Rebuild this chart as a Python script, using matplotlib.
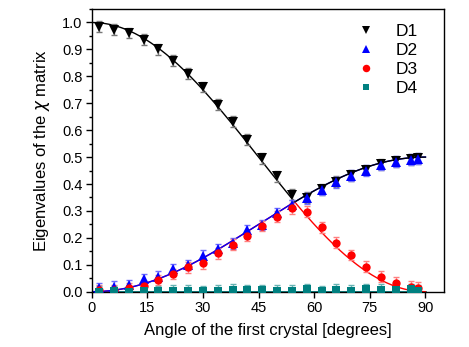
import numpy as np
import matplotlib
matplotlib.use("Agg")
import matplotlib.pyplot as plt
from matplotlib.ticker import MultipleLocator

plt.rcParams['font.family'] = ['Liberation Sans', 'DejaVu Sans']

angles = [2, 6, 10, 14, 18, 22, 26, 30, 34, 38, 42, 46, 50, 54, 58, 62, 66, 70, 74, 78, 82, 86, 88]
d1 = [0.985, 0.973, 0.961, 0.936, 0.901, 0.858, 0.810, 0.760, 0.695, 0.632, 0.564, 0.496, 0.428, 0.360,
      0.349, 0.380, 0.409, 0.433, 0.452, 0.473, 0.485, 0.492, 0.496]
d2 = [0.013, 0.019, 0.025, 0.046, 0.056, 0.083, 0.099, 0.133, 0.158, 0.180, 0.229, 0.248, 0.291, 0.322,
      0.347, 0.378, 0.407, 0.431, 0.450, 0.471, 0.483, 0.490, 0.494]
d3 = [0.005, 0.006, 0.012, 0.021, 0.043, 0.066, 0.091, 0.105, 0.143, 0.174, 0.207, 0.244, 0.279, 0.310,
      0.297, 0.239, 0.182, 0.136, 0.093, 0.056, 0.034, 0.019, 0.015]
d4 = [0.000, 0.002, 0.000, 0.001, 0.002, 0.003, 0.003, 0.002, 0.004, 0.007, 0.006, 0.006, 0.004, 0.003,
      0.010, 0.002, 0.008, 0.004, 0.009, 0.007, 0.005, 0.009, 0.004]
err = [0.02] * len(angles)

# theoretical model curves (sorted eigenvalues)
theta = np.linspace(0, 90, 400)
c = np.cos(np.radians(theta)) ** 2
s = np.sin(np.radians(theta)) ** 2 / 2
th1 = np.maximum(c, s)
th2 = s
th3 = np.minimum(c, s)
th4 = np.zeros_like(theta)

fig = plt.figure(figsize=(4.69, 3.47), dpi=100)
ax = fig.add_axes([0.1955, 0.1594, 0.7512, 0.8146])

teal = '#008080'
series = [
    (d1, 'v', 'black', '#777777', 'D1', 6.5),
    (d2, '^', 'blue', '#6f6fff', 'D2', 6.5),
    (d3, 'o', 'red', '#ff8080', 'D3', 6),
    (d4, 's', teal, '#66b3b3', 'D4', 5.2),
]

ax.plot(theta, th4, color=teal, lw=2.0, zorder=2)
ax.plot(theta, th3, color='red', lw=1.0, zorder=2)
ax.plot(theta, th2, color='blue', lw=1.0, zorder=2.1)
ax.plot(theta, th1, color='black', lw=1.0, zorder=2.2)

for vals, m, col, ecol, lab, ms in series:
    ax.errorbar(angles, vals, yerr=err, fmt='none', ecolor=ecol, elinewidth=1.0,
                capsize=2.5, capthick=1.0, zorder=3)
    ax.plot(angles, vals, linestyle='none', marker=m, color=col, markersize=ms,
            markeredgewidth=0, label=lab, zorder=4)

ax.set_xlim(0, 95)
ax.set_ylim(0, 1.05)
ax.xaxis.set_major_locator(MultipleLocator(15))
ax.yaxis.set_major_locator(MultipleLocator(0.1))
ax.yaxis.set_minor_locator(MultipleLocator(0.05))
ax.yaxis.set_major_formatter(matplotlib.ticker.FormatStrFormatter('%.1f'))
ax.tick_params(axis='both', which='major', direction='out', length=4.5, width=1.0,
               labelsize=10.5, top=False, right=False, pad=2)
ax.tick_params(axis='y', which='minor', direction='out', length=2.5, width=1.0, right=False)
for sp in ax.spines.values():
    sp.set_linewidth(1.0)

ax.set_xlabel('Angle of the first crystal [degrees]', fontsize=12, labelpad=6)
ax.set_ylabel(r'Eigenvalues of the $\chi$ matrix', fontsize=12, labelpad=7)

leg = ax.legend(loc='upper right', bbox_to_anchor=(0.955, 0.985), frameon=False,
                fontsize=12.5, handlelength=1.0, handletextpad=1.2, labelspacing=0.22,
                borderaxespad=0.2, markerscale=0.9)

fig.savefig('out.png', dpi=100)
